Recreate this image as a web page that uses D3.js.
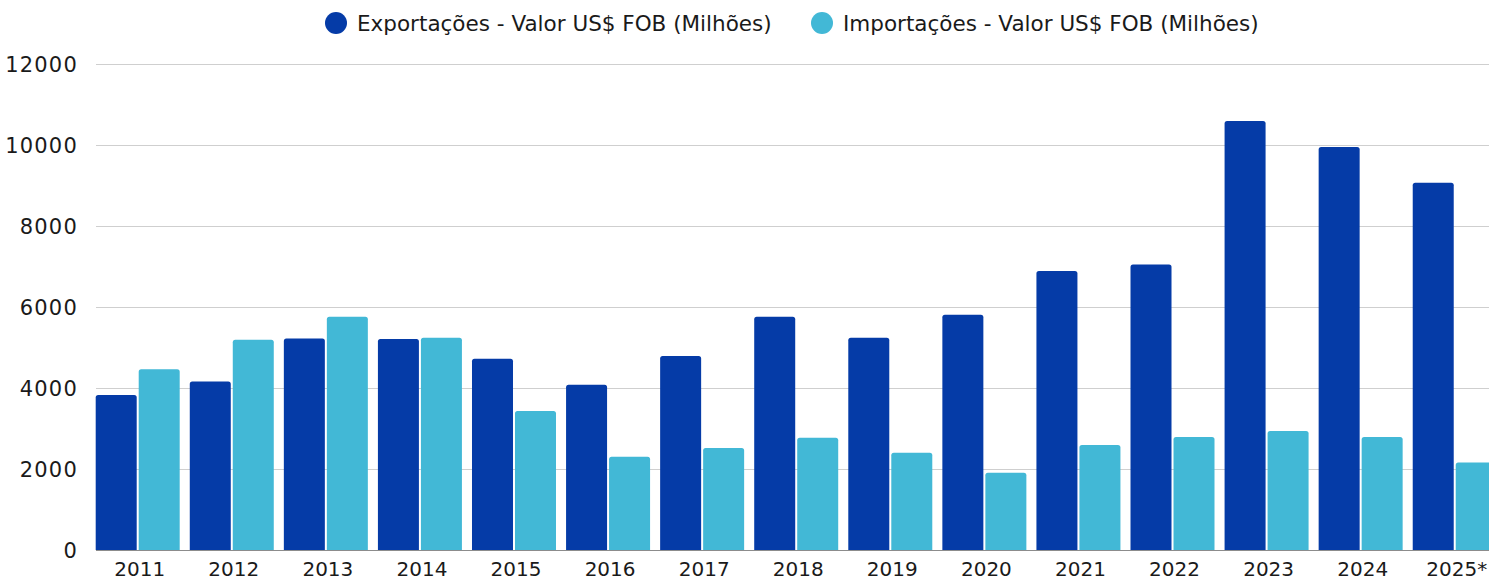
<!DOCTYPE html>
<meta charset="utf-8"/>
<html>
<head>
<script src="https://d3js.org/d3.v7.min.js"></script>
<style>
  * { margin: 0; padding: 0; }
  body { background: #fff; font-family: "DejaVu Sans", sans-serif; }
</style>
</head>
<body>
<div id="chart"></div>
<script>
// data
var years = ["2011","2012","2013","2014","2015","2016","2017","2018","2019","2020","2021","2022","2023","2024","2025*"];
var exportacoes = [3830, 4160, 5220, 5210, 4720, 4080, 4790, 5760, 5240, 5810, 6890, 7050, 10590, 9950, 9070];
var importacoes = [4465, 5190, 5760, 5240, 3430, 2300, 2520, 2770, 2400, 1910, 2590, 2790, 2940, 2790, 2160];
var seriesNames = ["Exportações - Valor US$ FOB (Milhões)", "Importações - Valor US$ FOB (Milhões)"];
var colors = ["#053ba7", "#42b8d6"];
var yTicks = [0, 2000, 4000, 6000, 8000, 10000, 12000];

var width = 1489, height = 580;
var svg = d3.select("#chart").append("svg")
    .attr("width", width).attr("height", height);

var y = d3.scaleLinear().domain([0, 12000]).range([550, 64]);
var x = d3.scaleBand().domain(years).range([90.7, 1501.8]).padding(0);
var inner = d3.scaleBand().domain([0, 1]).range([5, 89]).paddingInner(0.0465);

// grid
svg.append("g").selectAll("line")
    .data(yTicks.filter(function(d) { return d > 0; }))
    .join("line")
    .attr("x1", 96).attr("x2", width)
    .attr("y1", function(d) { return y(d) + 0.5; })
    .attr("y2", function(d) { return y(d) + 0.5; })
    .attr("stroke", "#cfcfcf").attr("stroke-width", 1);

// y labels
svg.append("g").selectAll("text")
    .data(yTicks)
    .join("text")
    .attr("x", 78)
    .attr("y", function(d) { return y(d); })
    .attr("dy", "0.36em")
    .attr("text-anchor", "end")
    .style("font-size", "21px")
    .style("letter-spacing", "1.2px")
    .style("fill", "#1a1a1a")
    .text(function(d) { return d; });

// rounded-top bar
function barPath(x0, w, yTop, yBot, r) {
  r = Math.min(r, (yBot - yTop) / 2);
  return "M" + x0 + "," + yBot +
    "V" + (yTop + r) +
    "Q" + x0 + "," + yTop + " " + (x0 + r) + "," + yTop +
    "H" + (x0 + w - r) +
    "Q" + (x0 + w) + "," + yTop + " " + (x0 + w) + "," + (yTop + r) +
    "V" + yBot + "Z";
}

var rows = years.map(function(yr, i) { return [exportacoes[i], importacoes[i]]; });

var groups = svg.append("g").selectAll("g")
    .data(rows)
    .join("g")
    .attr("transform", function(d, i) { return "translate(" + x(years[i]) + ",0)"; });

groups.selectAll("path")
    .data(function(d) { return d.map(function(v, k) { return {k: k, v: v}; }); })
    .join("path")
    .attr("d", function(d) {
      return barPath(inner(d.k), inner.bandwidth(), y(d.v), y(0), 2.5);
    })
    .attr("fill", function(d) { return colors[d.k]; });

// baseline
svg.append("line")
    .attr("x1", 96).attr("x2", width)
    .attr("y1", y(0) + 0.5).attr("y2", y(0) + 0.5)
    .attr("stroke", "#8c8c8c").attr("stroke-width", 1);

// x labels
svg.append("g").selectAll("text")
    .data(years)
    .join("text")
    .attr("x", function(d) { return x(d) + x.bandwidth() / 2 + 2; })
    .attr("y", 576)
    .attr("text-anchor", "middle")
    .style("font-size", "20px")
    .style("fill", "#1a1a1a")
    .text(function(d) { return d; });

// legend
var legendX = [336, 822];
var legend = svg.append("g").selectAll("g")
    .data(seriesNames)
    .join("g")
    .attr("transform", function(d, i) { return "translate(" + legendX[i] + ",23)"; });
legend.append("circle").attr("r", 11).attr("fill", function(d, i) { return colors[i]; });
legend.append("text")
    .attr("x", 21).attr("dy", "0.36em")
    .style("font-size", "21.5px")
    .style("fill", "#1a1a1a")
    .text(function(d) { return d; });
</script>
</body>
</html>
